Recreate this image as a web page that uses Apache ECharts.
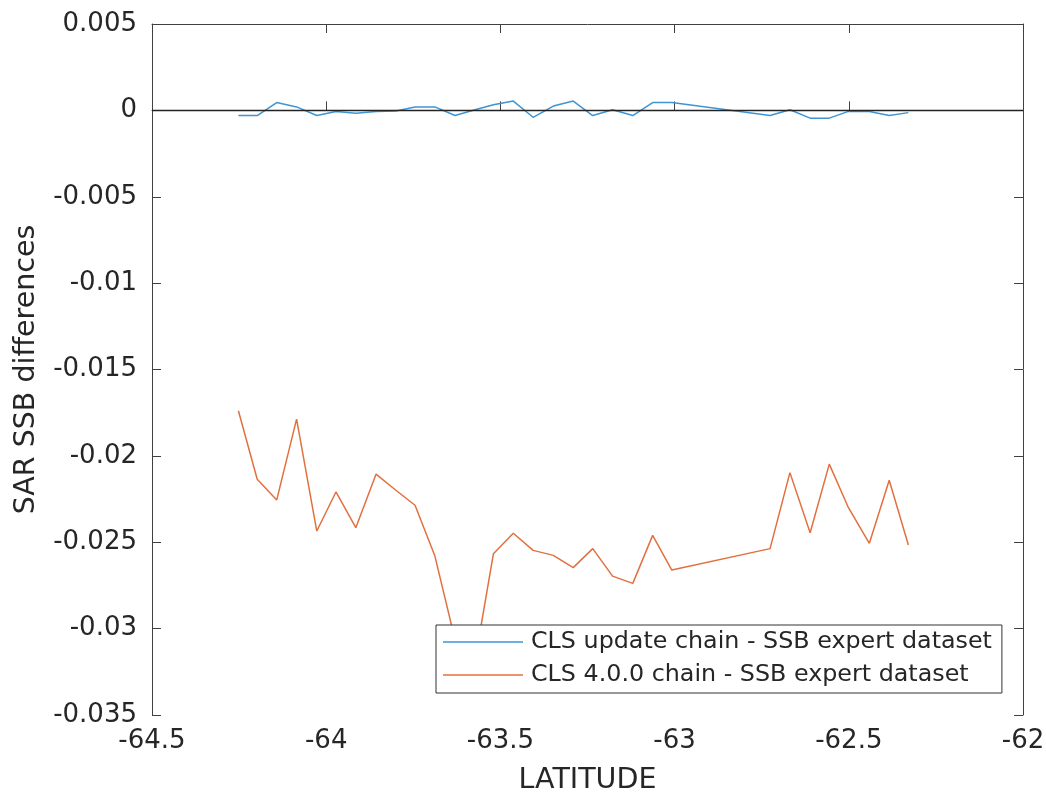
<!DOCTYPE html>
<html lang="en">
<head>
	<meta charset="UTF-8">
	<title>SAR SSB differences</title>
	<script src="https://cdn.jsdelivr.net/npm/echarts@6/dist/echarts.min.js"></script>
</head>
<body style="margin:0">
	<div id="main" style="width: 1046px;height: 794px"></div>
	<script>
		// latitudes of the samples (both series share them)
		var lats = [-64.252, -64.198, -64.142, -64.085, -64.027, -63.972, -63.915, -63.857,
			-63.800, -63.745, -63.688, -63.630, -63.573, -63.520, -63.463, -63.406,
			-63.348, -63.291, -63.235, -63.178, -63.120, -63.063, -63.008, -62.726,
			-62.669, -62.611, -62.556, -62.501, -62.441, -62.384, -62.329];

		// CLS update chain - SSB expert dataset
		var updateDiff = [-0.0003, -0.0003, 0.00045, 0.0002, -0.0003, -0.00006, -0.00016, -0.00006,
			-0.00004, 0.0002, 0.0002, -0.0003, 0.00004, 0.00033, 0.00054, -0.0004,
			0.00025, 0.00054, -0.0003, 0.00004, -0.0003, 0.00045, 0.00045, -0.0003,
			0.00004, -0.00045, -0.00045, -0.00006, -0.00006, -0.0003, -0.00013];

		// CLS 4.0.0 chain - SSB expert dataset
		var v400Diff = [-0.01739, -0.02135, -0.02255, -0.01787, -0.02435, -0.02209, -0.02416, -0.02106,
			-0.02199, -0.02286, -0.0258, -0.03067, -0.03188, -0.02566, -0.02448, -0.02547,
			-0.02576, -0.02647, -0.02537, -0.02696, -0.02738, -0.0246, -0.02661, -0.02537,
			-0.02097, -0.02445, -0.02048, -0.023, -0.02506, -0.02141, -0.02516];

		var seriesNames = ['CLS update chain - SSB expert dataset', 'CLS 4.0.0 chain - SSB expert dataset'];

		function pairs(ys) {
			return lats.map(function (x, i) { return [x, ys[i]]; });
		}

		var axisColor = '#404040';
		var textColor = '#262626';
		var font = 'DejaVu Sans';

		function fmt(v) {
			return String(+v.toFixed(4));
		}

		var myChart = echarts.init(document.getElementById('main'));

		myChart.setOption({
			animation: false,
			textStyle: { fontFamily: font },
			grid: { left: 152, top: 24, right: 23, bottom: 79, outerBoundsMode: 'none' },
			legend: {
				data: seriesNames,
				orient: 'vertical',
				left: 436,
				top: 625,
				padding: [5, 10, 6, 7],
				itemGap: 9,
				icon: 'rect',
				itemWidth: 80,
				itemHeight: 1.5,
				backgroundColor: '#fff',
				borderColor: '#333',
				borderWidth: 1,
				textStyle: { fontFamily: font, fontSize: 23.8, color: textColor, padding: [0, 0, 0, 3] }
			},
			xAxis: [{
				type: 'value',
				min: -64.5,
				max: -62,
				interval: 0.5,
				name: 'LATITUDE',
				nameLocation: 'middle',
				nameGap: 51,
				nameTextStyle: { fontSize: 28.5, color: textColor },
				axisLine: { lineStyle: { color: axisColor } },
				axisTick: { inside: true, length: 9, lineStyle: { color: axisColor } },
				axisLabel: { fontSize: 26, color: textColor, margin: 13, formatter: fmt },
				splitLine: { show: false }
			}, {
				type: 'value',
				position: 'top',
				min: -64.5,
				max: -62,
				interval: 0.5,
				axisLine: { onZero: false, lineStyle: { color: axisColor } },
				axisTick: { inside: true, length: 9, lineStyle: { color: axisColor } },
				axisLabel: { show: false },
				splitLine: { show: false }
			}],
			yAxis: [{
				type: 'value',
				min: -0.035,
				max: 0.005,
				interval: 0.005,
				name: 'SAR SSB differences',
				nameLocation: 'middle',
				nameGap: 111,
				nameTextStyle: { fontSize: 28.5, color: textColor },
				axisLine: { show: true, onZero: false, lineStyle: { color: axisColor } },
				axisTick: { show: true, inside: true, length: 9, lineStyle: { color: axisColor } },
				axisLabel: { fontSize: 26, color: textColor, margin: 15, formatter: fmt },
				splitLine: { show: false }
			}, {
				type: 'value',
				position: 'right',
				min: -0.035,
				max: 0.005,
				interval: 0.005,
				axisLine: { show: true, onZero: false, lineStyle: { color: axisColor } },
				axisTick: { show: true, inside: true, length: 9, lineStyle: { color: axisColor } },
				axisLabel: { show: false },
				splitLine: { show: false }
			}],
			series: [{
				name: seriesNames[0],
				type: 'line',
				data: pairs(updateDiff),
				symbol: 'none',
				color: '#3f95d3',
				lineStyle: { width: 1.5, color: '#3f95d3' },
				markLine: {
					silent: true,
					symbol: 'none',
					label: { show: false },
					lineStyle: { color: '#222', width: 1.3, type: 'solid' },
					data: [{ yAxis: 0 }]
				},
				z: 3
			}, {
				name: seriesNames[1],
				type: 'line',
				data: pairs(v400Diff),
				symbol: 'none',
				color: '#e2703f',
				lineStyle: { width: 1.5, color: '#e2703f' }
			}]
		});
	</script>
</body>
</html>
